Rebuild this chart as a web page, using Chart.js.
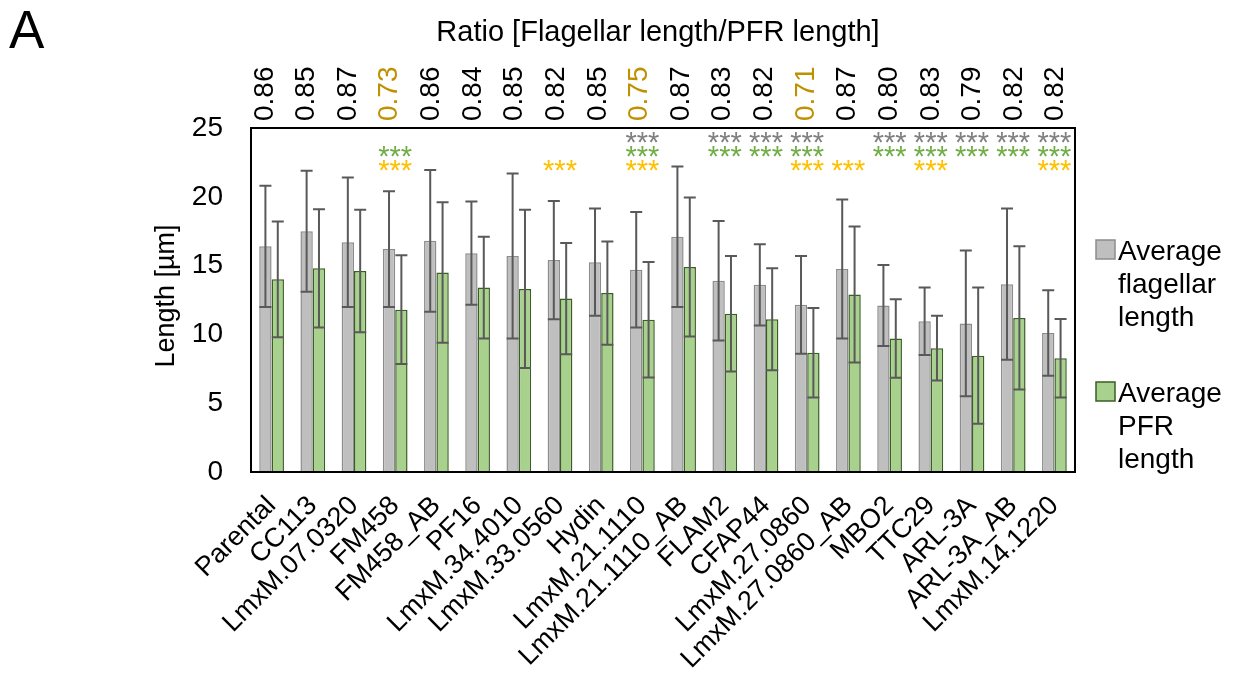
<!DOCTYPE html>
<html>
<head>
<meta charset="utf-8">
<script src="https://cdn.jsdelivr.net/npm/chart.js@4.4.1/dist/chart.umd.min.js"></script>
<style>
  html, body { margin: 0; padding: 0; background: #fff; }
  #wrap { width: 1243px; height: 690px; }
</style>
</head>
<body>
<div id="wrap"><canvas id="chart" width="1243" height="690"></canvas></div>
<script>
const strains = ['Parental', 'CC113', 'LmxM.07.0320', 'FM458', 'FM458_AB', 'PF16', 'LmxM.34.4010',
    'LmxM.33.0560', 'Hydin', 'LmxM.21.1110', 'LmxM.21.1110_AB', 'FLAM2', 'CFAP44', 'LmxM.27.0860',
    'LmxM.27.0860_AB', 'MBO2', 'TTC29', 'ARL-3A', 'ARL-3A_AB', 'LmxM.14.1220'];
const flagMean = [16.4, 17.5, 16.7, 16.2, 16.8, 15.9, 15.7, 15.4, 15.25, 14.7, 17.1, 13.9, 13.6, 12.15, 14.75, 12.1, 10.95, 10.8, 13.65, 10.1];
const flagSd = [4.4, 4.4, 4.7, 4.2, 5.15, 3.75, 6.0, 4.3, 3.9, 4.2, 5.1, 4.35, 2.95, 3.55, 5.05, 2.95, 2.45, 5.3, 5.5, 3.1];
const pfrMean = [14.0, 14.8, 14.6, 11.8, 14.5, 13.4, 13.3, 12.6, 13.0, 11.06, 14.9, 11.5, 11.1, 8.66, 12.9, 9.7, 9.0, 8.45, 11.2, 8.27];
const pfrSd = [4.2, 4.3, 4.45, 3.95, 5.1, 3.7, 5.75, 4.05, 3.75, 4.2, 5.05, 4.2, 3.7, 3.25, 4.95, 2.85, 2.35, 4.95, 5.2, 2.85];
const ratios = ['0.86', '0.85', '0.87', '0.73', '0.86', '0.84', '0.85', '0.82', '0.85', '0.75',
    '0.87', '0.83', '0.82', '0.71', '0.87', '0.80', '0.83', '0.79', '0.82', '0.82'];
const ratioHighlight = [3, 9, 13];
// significance marks, one row per colour
const starsGray = ['', '', '', '', '', '', '', '', '', '***', '', '***', '***', '***', '', '***', '***', '***', '***', '***'];
const starsGreen = ['', '', '', '***', '', '', '', '', '', '***', '', '***', '***', '***', '', '***', '***', '***', '***', '***'];
const starsYellow = ['', '', '', '***', '', '', '', '***', '', '***', '', '', '', '***', '***', '', '***', '', '', '***'];
const yTicks = [0, 5, 10, 15, 20, 25];

const FONT = "'Liberation Sans', Arial, sans-serif";
const GRAY = '#BFBFBF', GRAY_EDGE = '#8C8C8C';
const GREEN = '#A9D18E', GREEN_EDGE = '#3B5E24';

const extras = {
    id: 'extras',
    afterDatasetsDraw(chart) {
        const ctx = chart.ctx;
        const y = chart.scales.y;
        const sds = [flagSd, pfrSd];
        ctx.save();
        ctx.strokeStyle = '#595959';
        ctx.lineWidth = 2;
        chart.data.datasets.forEach((ds, i) => {
            chart.getDatasetMeta(i).data.forEach((bar, j) => {
                const hi = y.getPixelForValue(ds.data[j] + sds[i][j]);
                const lo = y.getPixelForValue(ds.data[j] - sds[i][j]);
                ctx.beginPath();
                ctx.moveTo(bar.x, hi); ctx.lineTo(bar.x, lo);
                ctx.moveTo(bar.x - 6, hi); ctx.lineTo(bar.x + 6, hi);
                ctx.moveTo(bar.x - 6, lo); ctx.lineTo(bar.x + 6, lo);
                ctx.stroke();
            });
        });
        ctx.restore();
    },
    afterDraw(chart) {
        const ctx = chart.ctx;
        const a = chart.chartArea;
        const x = chart.scales.x;
        ctx.save();
        // frame
        ctx.strokeStyle = '#000';
        ctx.lineWidth = 2;
        ctx.strokeRect(a.left, a.top, a.right - a.left, a.bottom - a.top);

        // panel letter and top title
        ctx.fillStyle = '#000';
        ctx.font = '53px ' + FONT;
        ctx.textAlign = 'left';
        ctx.textBaseline = 'alphabetic';
        ctx.fillText('A', 9, 48);
        ctx.font = '29px ' + FONT;
        ctx.textAlign = 'center';
        ctx.fillText('Ratio [Flagellar length/PFR length]', 658, 41);

        // y title
        ctx.save();
        ctx.translate(167, 296);
        ctx.rotate(-Math.PI / 2);
        ctx.font = '27px ' + FONT;
        ctx.textAlign = 'center';
        ctx.textBaseline = 'middle';
        ctx.fillText('Length [\u00b5m]', 0, 0);
        ctx.restore();

        // ratio labels
        ctx.font = '28px ' + FONT;
        ratios.forEach((r, i) => {
            const cx = x.getPixelForValue(i) - 9 + 8 * i / (ratios.length - 1);
            ctx.save();
            ctx.translate(cx + 10, 121);
            ctx.rotate(-Math.PI / 2);
            ctx.textAlign = 'left';
            ctx.textBaseline = 'alphabetic';
            ctx.fillStyle = ratioHighlight.includes(i) ? '#BF9000' : '#000';
            ctx.fillText(r, 0, 0);
            ctx.restore();
        });

        // stars
        ctx.font = '29px ' + FONT;
        ctx.textAlign = 'center';
        ctx.textBaseline = 'alphabetic';
        [[starsGray, '#808080', 137], [starsGreen, '#70AD47', 151], [starsYellow, '#FFC000', 165]].forEach(([row, col, cy]) => {
            ctx.fillStyle = col;
            row.forEach((s, i) => {
                if (s) ctx.fillText(s, x.getPixelForValue(i), cy + 14.5);
            });
        });

        // legend
        const items = [
            { fill: GRAY, edge: GRAY_EDGE, top: 240, lines: ['Average', 'flagellar', 'length'], base: 260 },
            { fill: GREEN, edge: GREEN_EDGE, top: 382, lines: ['Average', 'PFR', 'length'], base: 402 }
        ];
        ctx.font = '28px ' + FONT;
        ctx.textAlign = 'left';
        items.forEach(it => {
            ctx.fillStyle = it.fill;
            ctx.fillRect(1096, it.top, 19, 19);
            ctx.strokeStyle = it.edge;
            ctx.lineWidth = 1.5;
            ctx.strokeRect(1096, it.top, 19, 19);
            ctx.fillStyle = '#000';
            it.lines.forEach((t, k) => ctx.fillText(t, 1118, it.base + k * 33));
        });
        ctx.restore();
    }
};

new Chart(document.getElementById('chart'), {
    type: 'bar',
    data: {
        labels: strains,
        datasets: [
            { label: 'Average flagellar length', data: flagMean, backgroundColor: GRAY, borderColor: GRAY_EDGE, borderWidth: 1.5 },
            { label: 'Average PFR length', data: pfrMean, backgroundColor: GREEN, borderColor: GREEN_EDGE, borderWidth: 1.5 }
        ]
    },
    options: {
        responsive: false,
        animation: false,
        layout: { padding: { top: 128, right: 168, left: 0, bottom: 0 } },
        datasets: { bar: { categoryPercentage: 0.6, barPercentage: 1.0 } },
        plugins: { legend: { display: false }, tooltip: { enabled: false } },
        scales: {
            x: {
                grid: { display: false, drawTicks: false },
                border: { color: '#000', width: 2 },
                ticks: {
                    autoSkip: false, minRotation: 45, maxRotation: 45, padding: 18,
                    color: '#000', font: { family: FONT, size: 27 }
                },
                afterFit(s) { s.height = 218; }
            },
            y: {
                min: 0, max: 25,
                grid: { display: false, drawTicks: false },
                border: { color: '#000', width: 2 },
                afterBuildTicks(s) { s.ticks = yTicks.map(v => ({ value: v })); },
                ticks: { padding: 28, color: '#000', font: { family: FONT, size: 28 } },
                afterFit(s) { s.width = 251; }
            }
        }
    },
    plugins: [extras]
});
</script>
</body>
</html>
